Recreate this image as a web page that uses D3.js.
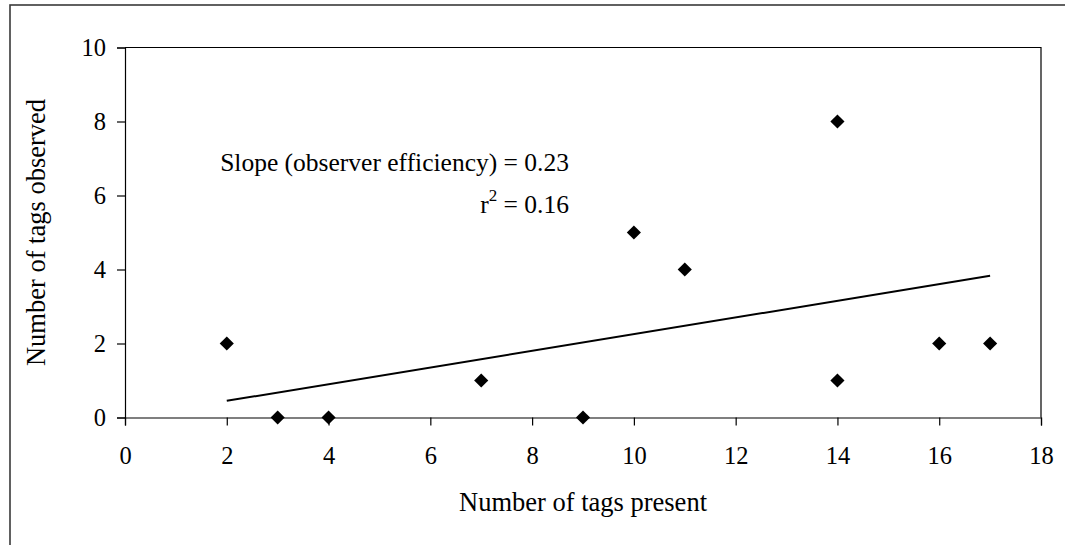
<!DOCTYPE html>
<html lang="en">
<head>
<meta charset="UTF-8" />
<title>Tags observed vs tags present</title>
<script src="https://d3js.org/d3.v7.min.js"></script>
</head>
<body style="margin:0;background:#fff;">
<div id="chart"></div>
<script>
  // Data
  const tagsPresent  = [2, 3, 4, 7, 9, 10, 11, 14, 14, 16, 17];
  const tagsObserved = [2, 0, 0, 1, 0, 5, 4, 8, 1, 2, 2];
  // Trend line endpoints (fit through the origin)
  const trendX = [2, 17];
  const trendY = [0.45, 3.83];
  const xTicks = [0, 2, 4, 6, 8, 10, 12, 14, 16, 18];
  const yTicks = [0, 2, 4, 6, 8, 10];

  const width = 1065,
        height = 545;
  const margin = { top: 47.5, right: 24, bottom: 127.5, left: 125 };
  const FONT = 'Liberation Serif';
  const FS = 24.5;

  const svg = d3.select('#chart')
                .append('svg')
                .attr('width', width)
                .attr('height', height);

  // Outer frame (cropped on right and bottom)
  svg.append('rect')
     .attr('x', 10)
     .attr('y', 5)
     .attr('width', width + 20)
     .attr('height', height + 20)
     .attr('fill', 'none')
     .attr('stroke', '#3a3a3a')
     .attr('stroke-width', 1.6);

  const x = d3.scaleLinear()
              .domain([0, 18])
              .range([margin.left, width - margin.right]);
  const y = d3.scaleLinear()
              .domain([0, 10])
              .range([height - margin.bottom, margin.top]);

  // Plot box top and right edges
  svg.append('path')
     .attr('d', `M${x(0)},${y(10)}H${x(18)}V${y(0)}`)
     .attr('fill', 'none')
     .attr('stroke', '#000')
     .attr('stroke-width', 1.2);

  // Axes
  const xAxis = svg.append('g')
     .attr('transform', `translate(0,${y(0)})`)
     .call(d3.axisBottom(x).tickValues(xTicks).tickSize(8).tickPadding(21).tickFormat(d3.format('d')));
  const yAxis = svg.append('g')
     .attr('transform', `translate(${x(0)},0)`)
     .call(d3.axisLeft(y).tickValues(yTicks).tickSize(8).tickPadding(11).tickFormat(d3.format('d')));

  [xAxis, yAxis].forEach(g => {
    g.attr('font-size', FS).attr('font-family', FONT);
    g.select('.domain').attr('stroke', '#000').attr('stroke-width', 1.2);
    g.selectAll('.tick line').attr('stroke', '#000').attr('stroke-width', 1.2);
    g.selectAll('.tick text').attr('fill', '#000');
  });
  yAxis.selectAll('.tick text').attr('dy', '0.34em');

  // Trend line
  svg.append('line')
     .attr('x1', x(trendX[0]))
     .attr('y1', y(trendY[0]))
     .attr('x2', x(trendX[1]))
     .attr('y2', y(trendY[1]))
     .attr('stroke', '#000')
     .attr('stroke-width', 2);

  // Diamond markers
  const diamond = d3.symbol().type(d3.symbolSquare).size(100);
  svg.selectAll('.pt')
     .data(tagsPresent.map((v, i) => ({ x: v, y: tagsObserved[i] })))
     .enter()
     .append('path')
     .attr('class', 'pt')
     .attr('d', diamond)
     .attr('transform', d => `translate(${x(d.x)},${y(d.y)}) rotate(45)`)
     .attr('fill', '#000');

  const labels = svg.append('g')
     .attr('font-family', FONT)
     .attr('font-size', 25.5)
     .attr('fill', '#000');

  // Axis titles
  labels.append('text')
     .attr('x', 583)
     .attr('y', 511)
     .attr('font-size', 26.5)
     .attr('text-anchor', 'middle')
     .text('Number of tags present');

  labels.append('text')
     .attr('transform', `translate(45,${(y(0) + y(10)) / 2}) rotate(-90)`)
     .attr('font-size', 26.5)
     .attr('text-anchor', 'middle')
     .text('Number of tags observed');

  // Annotation
  labels.append('text')
     .attr('x', 569)
     .attr('y', 171)
     .attr('text-anchor', 'end')
     .text('Slope (observer efficiency) = 0.23');

  const r2 = labels.append('text')
     .attr('x', 569)
     .attr('y', 213)
     .attr('text-anchor', 'end');
  r2.append('tspan').text('r');
  r2.append('tspan').attr('dy', -12).attr('font-size', 17).text('2');
  r2.append('tspan').attr('dy', 12).text(' = 0.16');
</script>
</body>
</html>
